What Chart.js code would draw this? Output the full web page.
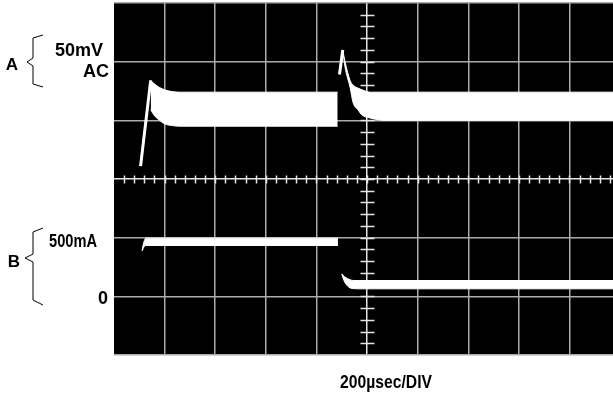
<!DOCTYPE html>
<html lang="en">
<head>
<meta charset="UTF-8">
<title>Scope trace</title>
<script src="https://cdn.jsdelivr.net/npm/chart.js"></script>
<style>
  html, body { margin: 0; padding: 0; background: #fff; }
  #wrap { width: 613px; height: 396px; }
</style>
</head>
<body>
<div id="wrap"><canvas id="scope" width="613" height="396"></canvas></div>
<script>
// time: µs from the left edge of the screen, 200 µs per division
const timeMax = 1972;
const timeTicks = [0, 200, 400, 600, 800, 1000, 1200, 1400, 1600, 1800];
// channel A in mV (AC), channel B in mA
const aTicks = [-150, -100, -50, 0, 50, 100, 150];
const bTicks = [-500, 0, 500, 1000, 1500, 2000, 2500];

// trace A before the step: rising edge, then the ripple band
const aRiseT = [105, 145];
const aRiseV = [11, 84];
const aBand1T = [145, 160, 180, 200, 230, 261, 884];
const aBand1Hi = [84, 81, 78, 76, 74.5, 74, 74];
const aBand1Lo = [59, 54, 50, 47, 45.5, 45, 45];
// trace A after the step
const aSpikeT = [891, 904];
const aSpikeV = [89, 110];
const aBand2T = [904, 913, 933, 945, 964, 980, 1012, 1071, 1972];
const aBand2Hi = [110, 100, 84, 80, 77.5, 76, 74, 74, 74];
const aBand2Lo = [110, 95.5, 78, 65, 59, 54.5, 52, 50, 50];
// trace B (load current)
const bBand1T = [111, 118, 126, 885];
const bBand1Hi = [392, 462, 496, 496];
const bBand1Lo = [386, 420, 433, 433];
const bBand2T = [900, 912, 933, 945, 972, 1972];
const bBand2Hi = [192, 165, 142, 135, 135, 135];
const bBand2Lo = [188, 120, 72, 66, 64, 64];

const GRID = '#ababab';
const AXIS = '#e6e6e6';

const pts = (t, v) => t.map((x, i) => ({ x: x, y: v[i] }));

const datasets = [];
function line(t, v, axis) {
  datasets.push({
    data: pts(t, v), yAxisID: axis, borderColor: '#fff', borderWidth: 3,
    pointRadius: 0, fill: false, tension: 0
  });
}
function band(t, hi, lo, axis) {
  const idx = datasets.length;
  datasets.push({
    data: pts(t, hi), yAxisID: axis, borderColor: '#fff', borderWidth: 1,
    pointRadius: 0, fill: false, cubicInterpolationMode: 'monotone'
  });
  datasets.push({
    data: pts(t, lo), yAxisID: axis, borderColor: '#fff', borderWidth: 1,
    pointRadius: 0, backgroundColor: '#fff', fill: { target: idx },
    cubicInterpolationMode: 'monotone'
  });
}
line(aRiseT, aRiseV, 'yA');
band(aBand1T, aBand1Hi, aBand1Lo, 'yA');
line(aSpikeT, aSpikeV, 'yA');
band(aBand2T, aBand2Hi, aBand2Lo, 'yA');
band(bBand1T, bBand1Hi, bBand1Lo, 'yB');
band(bBand2T, bBand2Hi, bBand2Lo, 'yB');

// black screen + minor ticks on the centre axes
const screen = {
  id: 'screen',
  beforeDraw(chart) {
    const { ctx, chartArea: a } = chart;
    ctx.save();
    ctx.fillStyle = '#000';
    ctx.fillRect(a.left, a.top, a.right - a.left, a.bottom - a.top);
    ctx.restore();
  },
  beforeDatasetsDraw(chart) {
    const { ctx, scales } = chart;
    const x0 = Math.round(scales.x.getPixelForValue(1000)) + 0.5;
    const y0 = Math.round(scales.yA.getPixelForValue(0)) + 0.5;
    ctx.save();
    ctx.strokeStyle = AXIS;
    ctx.lineWidth = 1.5;
    for (let t = 40; t < timeMax; t += 40) {
      const px = Math.round(scales.x.getPixelForValue(t)) + 0.5;
      ctx.beginPath(); ctx.moveTo(px, y0 - 4); ctx.lineTo(px, y0 + 4); ctx.stroke();
    }
    for (let v = -140; v < 150; v += 10) {
      const py = Math.round(scales.yA.getPixelForValue(v)) + 0.5;
      ctx.beginPath(); ctx.moveTo(x0 - 7, py); ctx.lineTo(x0 + 7, py); ctx.stroke();
    }
    ctx.restore();
  }
};

// channel labels, braces and time base
const labels = {
  id: 'labels',
  afterDraw(chart) {
    const { ctx, scales } = chart;
    ctx.save();
    ctx.fillStyle = '#000';
    ctx.textBaseline = 'alphabetic';
    ctx.font = 'bold 18px "Liberation Sans", Arial, sans-serif';
    ctx.textAlign = 'right';
    ctx.fillText('50mV', 103, 56);
    ctx.fillText('AC', 109, 77);
    ctx.fillText('500mA', 97, scales.yB.getPixelForValue(500) + 9, 48);
    ctx.fillText('0', 108, scales.yB.getPixelForValue(0) + 8);
    ctx.textAlign = 'center';
    ctx.font = 'bold 17px "Liberation Sans", Arial, sans-serif';
    ctx.fillText('A', 12, 70);
    ctx.fillText('B', 14, 267);
    ctx.font = 'bold 18px "Liberation Sans", Arial, sans-serif';
    ctx.fillText('200\u00B5sec/DIV', 386, 388, 92);

    ctx.strokeStyle = '#000';
    ctx.lineWidth = 1;
    ctx.beginPath();
    ctx.moveTo(43, 35); ctx.lineTo(33, 38); ctx.lineTo(33, 58);
    ctx.lineTo(27, 62); ctx.lineTo(33, 66); ctx.lineTo(33, 84); ctx.lineTo(43, 87);
    ctx.moveTo(43, 228); ctx.lineTo(33, 232); ctx.lineTo(33, 254);
    ctx.lineTo(25, 258); ctx.lineTo(33, 262); ctx.lineTo(33, 300); ctx.lineTo(43, 305);
    ctx.stroke();
    ctx.restore();
  }
};

new Chart(document.getElementById('scope'), {
  type: 'line',
  data: { datasets: datasets },
  options: {
    responsive: false,
    animation: false,
    layout: { padding: { left: 114, top: 3, right: 0, bottom: 41 } },
    plugins: { legend: { display: false }, tooltip: { enabled: false } },
    scales: {
      x: {
        type: 'linear', min: 0, max: timeMax,
        afterBuildTicks: s => { s.ticks = timeTicks.map(v => ({ value: v })); },
        ticks: { display: false },
        border: { display: false },
        grid: {
          drawTicks: false, lineWidth: 1.5,
          color: c => c.tick.value === 0 ? 'rgba(0,0,0,0)' : (c.tick.value === 1000 ? AXIS : GRID)
        }
      },
      yA: {
        position: 'left', min: -150, max: 150,
        afterBuildTicks: s => { s.ticks = aTicks.map(v => ({ value: v })); },
        ticks: { display: false },
        border: { display: false },
        grid: {
          drawTicks: false, lineWidth: 1.5,
          color: c => c.tick.value === 0 ? AXIS : GRID
        }
      },
      yB: {
        display: false, min: bTicks[0], max: bTicks[bTicks.length - 1]
      }
    }
  },
  plugins: [screen, labels]
});
</script>
</body>
</html>
